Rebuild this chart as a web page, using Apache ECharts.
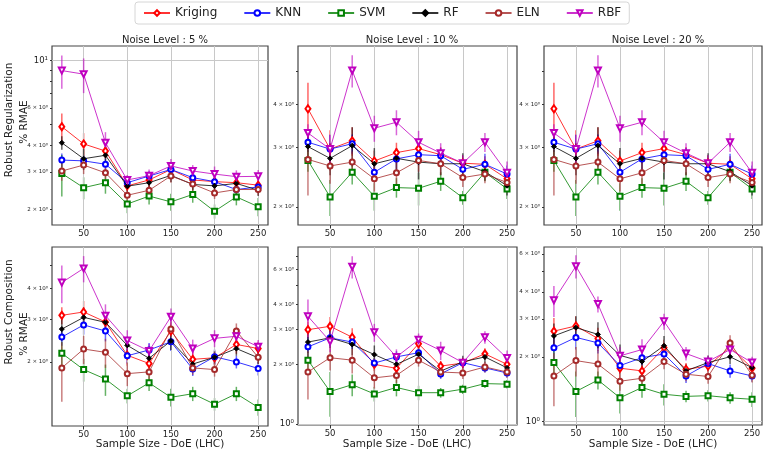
<!DOCTYPE html>
<html>
<head>
<meta charset="utf-8">
<script src="https://cdn.jsdelivr.net/npm/echarts@6/dist/echarts.min.js"></script>
<style>
  html, body { margin: 0; padding: 0; background: #fff; }
  #main { width: 765px; height: 452px; }
</style>
</head>
<body>
<div id="main"></div>
<script>
// sample sizes (x axis)
var sampleSize = [25, 50, 75, 100, 125, 150, 175, 200, 225, 250];
var xTicks = [50, 100, 150, 200, 250];
var models = ['Kriging', 'KNN', 'SVM', 'RF', 'ELN', 'RBF'];

// Robust Regularization, noise 5 %
var reg5Mean = {
  Kriging: [4.89, 4.06, 3.76, 2.58, 2.75, 3.08, 2.75, 2.70, 2.67, 2.60],
  KNN:     [3.41, 3.38, 3.26, 2.67, 2.87, 3.08, 2.82, 2.70, 2.48, 2.55],
  SVM:     [2.95, 2.53, 2.67, 2.12, 2.31, 2.17, 2.35, 1.96, 2.29, 2.06],
  RF:      [4.11, 3.46, 3.59, 2.57, 2.67, 2.89, 2.62, 2.58, 2.65, 2.46],
  ELN:     [3.03, 3.23, 2.97, 2.33, 2.46, 2.87, 2.63, 2.39, 2.48, 2.48],
  RBF:     [8.97, 8.63, 4.11, 2.75, 2.88, 3.20, 3.03, 2.93, 2.85, 2.86]
};
var reg5Err = {
  Kriging: [0.75, 0.5, 0.3, 0.15, 0.2, 0.2, 0.15, 0.15, 0.15, 0.15],
  KNN:     [0.25, 0.2, 0.2, 0.15, 0.15, 0.2, 0.15, 0.15, 0.15, 0.15],
  SVM:     [0.65, 0.3, 0.3, 0.2, 0.2, 0.2, 0.2, 0.15, 0.2, 0.2],
  RF:      [0.3, 0.4, 0.35, 0.15, 0.2, 0.2, 0.15, 0.15, 0.15, 0.15],
  ELN:     [0.3, 0.3, 0.2, 0.2, 0.2, 0.2, 0.2, 0.15, 0.15, 0.15],
  RBF:     [1.6, 1.6, 0.5, 0.15, 0.2, 0.25, 0.2, 0.25, 0.2, 0.2]
};

// Robust Regularization, noise 10 %
var reg10Mean = {
  Kriging: [3.89, 2.96, 3.13, 2.73, 2.89, 2.97, 2.85, 2.69, 2.67, 2.42],
  KNN:     [3.10, 2.96, 3.07, 2.53, 2.77, 2.85, 2.83, 2.58, 2.67, 2.50],
  SVM:     [2.74, 2.14, 2.53, 2.15, 2.28, 2.27, 2.38, 2.13, 2.53, 2.26],
  RF:      [3.01, 2.78, 3.03, 2.68, 2.78, 2.71, 2.68, 2.68, 2.54, 2.31],
  ELN:     [2.76, 2.64, 2.71, 2.42, 2.52, 2.74, 2.68, 2.44, 2.50, 2.36],
  RBF:     [3.30, 2.96, 5.04, 3.41, 3.55, 3.10, 2.88, 2.69, 3.10, 2.52]
};
var reg10Err = {
  Kriging: [0.75, 0.4, 0.3, 0.2, 0.2, 0.2, 0.15, 0.15, 0.15, 0.15],
  KNN:     [0.2, 0.3, 0.2, 0.15, 0.2, 0.2, 0.15, 0.15, 0.2, 0.15],
  SVM:     [0.2, 0.26, 0.2, 0.2, 0.15, 0.25, 0.15, 0.1, 0.15, 0.15],
  RF:      [0.25, 0.3, 0.4, 0.3, 0.2, 0.3, 0.2, 0.2, 0.15, 0.15],
  ELN:     [0.6, 0.3, 0.2, 0.2, 0.2, 0.2, 0.2, 0.15, 0.15, 0.15],
  RBF:     [0.2, 0.3, 0.55, 0.3, 0.3, 0.25, 0.2, 0.15, 0.2, 0.2]
};

// Robust Regularization, noise 20 %
var reg20Mean = {
  Kriging: [3.89, 2.96, 3.13, 2.73, 2.89, 2.97, 2.85, 2.69, 2.67, 2.42],
  KNN:     [3.10, 2.96, 3.07, 2.53, 2.77, 2.85, 2.83, 2.58, 2.67, 2.50],
  SVM:     [2.74, 2.14, 2.53, 2.15, 2.28, 2.27, 2.38, 2.13, 2.53, 2.26],
  RF:      [3.01, 2.78, 3.03, 2.68, 2.78, 2.71, 2.68, 2.68, 2.54, 2.31],
  ELN:     [2.76, 2.64, 2.71, 2.42, 2.52, 2.74, 2.68, 2.44, 2.50, 2.36],
  RBF:     [3.30, 2.96, 5.04, 3.41, 3.55, 3.10, 2.88, 2.69, 3.10, 2.52]
};
var reg20Err = {
  Kriging: [0.75, 0.4, 0.3, 0.2, 0.2, 0.2, 0.15, 0.15, 0.15, 0.15],
  KNN:     [0.2, 0.3, 0.2, 0.15, 0.2, 0.2, 0.15, 0.15, 0.2, 0.15],
  SVM:     [0.2, 0.26, 0.2, 0.2, 0.15, 0.25, 0.15, 0.1, 0.15, 0.15],
  RF:      [0.25, 0.3, 0.4, 0.3, 0.2, 0.3, 0.2, 0.2, 0.15, 0.15],
  ELN:     [0.6, 0.3, 0.2, 0.2, 0.2, 0.2, 0.2, 0.15, 0.15, 0.15],
  RBF:     [0.2, 0.3, 0.55, 0.3, 0.3, 0.25, 0.2, 0.15, 0.2, 0.2]
};

// Robust Composition, noise 5 %
var comp5Mean = {
  Kriging: [3.11, 3.21, 2.92, 2.13, 1.97, 2.68, 2.05, 2.08, 2.36, 2.27],
  KNN:     [2.53, 2.84, 2.68, 2.12, 2.24, 2.42, 1.87, 2.10, 2.00, 1.88],
  SVM:     [2.17, 1.86, 1.70, 1.45, 1.64, 1.43, 1.48, 1.34, 1.48, 1.30],
  RF:      [2.73, 3.05, 2.91, 2.34, 2.07, 2.44, 1.96, 2.09, 2.27, 2.08],
  ELN:     [1.89, 2.26, 2.19, 1.79, 1.82, 2.73, 1.89, 1.86, 2.68, 2.09],
  RBF:     [4.24, 4.85, 3.10, 2.45, 2.22, 3.07, 2.27, 2.50, 2.55, 2.31]
};
var comp5Err = {
  Kriging: [0.25, 0.35, 0.25, 0.2, 0.15, 0.2, 0.15, 0.15, 0.2, 0.15],
  KNN:     [0.2, 0.25, 0.25, 0.15, 0.15, 0.2, 0.12, 0.15, 0.12, 0.12],
  SVM:     [0.25, 0.2, 0.25, 0.1, 0.12, 0.12, 0.1, 0.08, 0.1, 0.1],
  RF:      [0.3, 0.3, 0.3, 0.2, 0.15, 0.2, 0.12, 0.12, 0.15, 0.12],
  ELN:     [0.52, 0.3, 0.3, 0.2, 0.15, 0.2, 0.12, 0.12, 0.2, 0.12],
  RBF:     [0.75, 0.6, 0.35, 0.25, 0.15, 0.25, 0.2, 0.2, 0.2, 0.15]
};

// Robust Composition, noise 10 %
var comp10Mean = {
  Kriging: [2.99, 3.11, 2.74, 2.00, 1.91, 2.54, 1.96, 2.03, 2.26, 2.00],
  KNN:     [2.45, 2.72, 2.59, 2.03, 2.18, 2.29, 1.79, 2.04, 1.92, 1.81],
  SVM:     [2.10, 1.46, 1.58, 1.42, 1.53, 1.44, 1.44, 1.50, 1.60, 1.59],
  RF:      [2.59, 2.72, 2.52, 2.24, 2.00, 2.25, 1.85, 2.06, 2.18, 1.92],
  ELN:     [1.83, 2.16, 2.10, 1.71, 1.76, 2.10, 1.83, 1.81, 1.94, 1.83],
  RBF:     [3.49, 2.61, 6.21, 2.90, 2.18, 2.66, 2.35, 2.04, 2.74, 2.15]
};
var comp10Err = {
  Kriging: [0.3, 0.35, 0.3, 0.15, 0.15, 0.2, 0.12, 0.12, 0.15, 0.12],
  KNN:     [0.3, 0.25, 0.2, 0.12, 0.15, 0.15, 0.1, 0.12, 0.1, 0.1],
  SVM:     [0.2, 0.37, 0.2, 0.12, 0.15, 0.12, 0.08, 0.08, 0.08, 0.08],
  RF:      [0.3, 0.3, 0.3, 0.25, 0.15, 0.15, 0.12, 0.15, 0.15, 0.12],
  ELN:     [0.5, 0.3, 0.3, 0.2, 0.15, 0.15, 0.12, 0.12, 0.12, 0.12],
  RBF:     [0.75, 0.3, 0.8, 0.3, 0.2, 0.2, 0.25, 0.12, 0.2, 0.2]
};

// Robust Composition, noise 20 %
var comp20Mean = {
  Kriging: [2.63, 2.78, 2.43, 1.77, 1.72, 2.20, 1.75, 1.81, 2.22, 1.77],
  KNN:     [2.20, 2.46, 2.32, 1.82, 1.98, 2.06, 1.63, 1.86, 1.72, 1.63],
  SVM:     [1.88, 1.38, 1.56, 1.29, 1.44, 1.34, 1.31, 1.32, 1.29, 1.27],
  RF:      [2.50, 2.73, 2.54, 2.03, 1.90, 2.25, 1.72, 1.88, 2.00, 1.78],
  ELN:     [1.63, 1.92, 1.85, 1.54, 1.59, 1.90, 1.66, 1.62, 2.32, 1.64],
  RBF:     [3.66, 5.26, 3.51, 2.02, 2.16, 2.92, 2.07, 1.90, 2.16, 1.88]
};
var comp20Err = {
  Kriging: [0.4, 0.3, 0.3, 0.2, 0.15, 0.2, 0.12, 0.12, 0.2, 0.12],
  KNN:     [0.3, 0.3, 0.25, 0.15, 0.15, 0.15, 0.12, 0.12, 0.12, 0.1],
  SVM:     [0.3, 0.33, 0.15, 0.2, 0.15, 0.15, 0.08, 0.08, 0.08, 0.1],
  RF:      [0.35, 0.35, 0.35, 0.25, 0.15, 0.25, 0.12, 0.15, 0.15, 0.12],
  ELN:     [0.45, 0.3, 0.3, 0.15, 0.15, 0.15, 0.12, 0.12, 0.2, 0.12],
  RBF:     [0.6, 0.65, 0.3, 0.2, 0.25, 0.25, 0.15, 0.12, 0.2, 0.12]
};

// y tick labels per panel (log axis)
var yLabels1 = [2, 3, 4, 6, 10];
var yLabels2 = [2, 3, 4];
var yLabels3 = [2, 3, 4];
var yLabels4 = [2, 3, 4];
var yLabels5 = [1, 2, 3, 4, 6];
var yLabels6 = [1, 2, 3, 4, 6];

var FONT = 'DejaVu Sans';
var style = {
  Kriging: { color: '#ff0000', symbol: 'emptyDiamond', size: [5, 7] },
  KNN:     { color: '#0000ff', symbol: 'emptyCircle', size: 5 },
  SVM:     { color: '#008000', symbol: 'emptyRect', size: 5 },
  RF:      { color: '#000000', symbol: 'diamond', size: 5 },
  ELN:     { color: '#a52a2a', symbol: 'emptyCircle', size: 5 },
  RBF:     { color: '#bf00bf', symbol: 'emptyTriangle', size: 6, rotate: 180 }
};

var panels = [
  { mean: reg5Mean, err: reg5Err, ymin: 1.69, ymax: 11.7, labels: yLabels1, hline: [10],
    left: 52, top: 46, width: 216, height: 179 },
  { mean: reg10Mean, err: reg10Err, ymin: 1.77, ymax: 5.95, labels: yLabels2, hline: [],
    left: 298, top: 46, width: 219, height: 179 },
  { mean: reg20Mean, err: reg20Err, ymin: 1.77, ymax: 5.95, labels: yLabels3, hline: [],
    left: 544, top: 46, width: 218, height: 179 },
  { mean: comp5Mean, err: comp5Err, ymin: 1.09, ymax: 5.94, labels: yLabels4, hline: [],
    left: 52, top: 247, width: 216, height: 179 },
  { mean: comp10Mean, err: comp10Err, ymin: 0.99, ymax: 7.8, labels: yLabels5, hline: [1],
    left: 298, top: 247, width: 219, height: 178 },
  { mean: comp20Mean, err: comp20Err, ymin: 0.965, ymax: 6.46, labels: yLabels6, hline: [1],
    left: 544, top: 247, width: 218, height: 178 }
];

function yFormat(v) {
  if (Math.abs(v - 10) < 1e-6) return '{maj|10¹}';
  if (Math.abs(v - 1) < 1e-6) return '{maj|10⁰}';
  return '{min|' + Math.round(v) + ' × 10⁰}';
}

function minorTicks(lo, hi) {
  var out = [];
  for (var d = 0.1; d <= 100; d *= 10) {
    for (var k = 1; k < 10; k++) {
      var v = Math.round(k * d * 1000) / 1000;
      if (v >= lo && v <= hi) out.push(v);
    }
  }
  return out;
}

var grids = [], xAxes = [], yAxes = [], lineSeries = [], barSeries = [];

panels.forEach(function (p, gi) {
  grids.push({
    left: p.left, top: p.top, width: p.width, height: p.height,
    show: true, borderColor: '#444', borderWidth: 1.2, backgroundColor: 'transparent'
  });
  xAxes.push({
    type: 'value', gridIndex: gi, min: 13.75, max: 261.25,
    axisLine: { show: false },
    axisTick: { show: true, customValues: xTicks, length: 3.5, lineStyle: { color: '#333' } },
    axisLabel: { customValues: xTicks, fontFamily: FONT, fontSize: 8.5, color: '#222', margin: 4 },
    splitLine: { show: false }
  });
  yAxes.push({
    type: 'log', logBase: 10, gridIndex: gi, min: p.ymin, max: p.ymax,
    axisLine: { show: false },
    axisTick: { show: true, customValues: minorTicks(p.ymin, p.ymax), length: 2, lineStyle: { color: '#333' } },
    axisLabel: {
      customValues: p.labels, formatter: yFormat, margin: 4,
      rich: {
        maj: { fontFamily: FONT, fontSize: 8.5, color: '#222' },
        min: { fontFamily: FONT, fontSize: 5.5, color: '#222' }
      }
    },
    splitLine: { show: false }
  });

  // grid lines
  var ml = xTicks.map(function (v) { return { xAxis: v }; });
  p.hline.forEach(function (v) { ml.push({ yAxis: v }); });
  barSeries.push({
    type: 'line', name: 'grid' + gi, xAxisIndex: gi, yAxisIndex: gi, data: [], z: 1,
    markLine: {
      silent: true, symbol: ['none', 'none'], label: { show: false },
      lineStyle: { color: '#c8c8c8', width: 1, type: 'solid' }, animation: false,
      data: ml
    }
  });

  models.forEach(function (m, mi) {
    var s = style[m];
    var pts = sampleSize.map(function (x, i) { return [x, p.mean[m][i], p.err[m][i]]; });
    // error bars (drawn through the axis scales)
    barSeries.push({
      type: 'custom', name: m, xAxisIndex: gi, yAxisIndex: gi, z: 2 + mi,
      clip: true, silent: true, color: s.color,
      data: pts,
      encode: { x: 0, y: 1 },
      renderItem: function (params, api) {
        var x = api.value(0), v = api.value(1), e = api.value(2);
        var a = api.coord([x, v + e]);
        var b = api.coord([x, Math.max(v - e, 0.01)]);
        return {
          type: 'line',
          shape: { x1: a[0], y1: a[1], x2: b[0], y2: b[1] },
          style: { stroke: s.color, lineWidth: 1.5, opacity: 0.6 }
        };
      }
    });
    lineSeries.push({
      type: 'line', name: m, xAxisIndex: gi, yAxisIndex: gi, z: 10 + mi,
      data: pts.map(function (d) { return [d[0], d[1]]; }),
      color: s.color,
      symbol: s.symbol, symbolSize: s.size, symbolRotate: s.rotate || 0,
      showAllSymbol: true,
      lineStyle: { color: s.color, width: 1, opacity: 0.8 },
      itemStyle: { color: s.color, borderColor: s.color, borderWidth: 1 },
      animation: false
    });
  });
});

var chart = echarts.init(document.getElementById('main'), null, { renderer: 'canvas' });
chart.setOption({
  backgroundColor: '#fff',
  animation: false,
  textStyle: { fontFamily: FONT },
  legend: {
    data: models, left: 135, top: 2,
    padding: [5, 8], itemGap: 26, itemWidth: 26, itemHeight: 7,
    borderColor: '#d6d6d6', borderWidth: 1, borderRadius: 3,
    textStyle: { fontFamily: FONT, fontSize: 12, color: '#222' }
  },
  title: [
    { text: 'Noise Level : 5 %', left: 160, top: 30, textAlign: 'center',
      textStyle: { fontFamily: FONT, fontSize: 10, fontWeight: 'normal', color: '#222' } },
    { text: 'Noise Level : 10 %', left: 407, top: 30, textAlign: 'center',
      textStyle: { fontFamily: FONT, fontSize: 10, fontWeight: 'normal', color: '#222' } },
    { text: 'Noise Level : 20 %', left: 653, top: 30, textAlign: 'center',
      textStyle: { fontFamily: FONT, fontSize: 10, fontWeight: 'normal', color: '#222' } }
  ],
  graphic: [
    { type: 'text', x: 9, y: 120, rotation: Math.PI / 2,
      style: { text: 'Robust Regularization', font: '10.5px "DejaVu Sans"', fill: '#222', textAlign: 'center', textVerticalAlign: 'middle' } },
    { type: 'text', x: 24, y: 122, rotation: Math.PI / 2,
      style: { text: '% RMAE', font: '10.5px "DejaVu Sans"', fill: '#222', textAlign: 'center', textVerticalAlign: 'middle' } },
    { type: 'text', x: 9, y: 312, rotation: Math.PI / 2,
      style: { text: 'Robust Composition', font: '10.5px "DejaVu Sans"', fill: '#222', textAlign: 'center', textVerticalAlign: 'middle' } },
    { type: 'text', x: 24, y: 334, rotation: Math.PI / 2,
      style: { text: '% RMAE', font: '10.5px "DejaVu Sans"', fill: '#222', textAlign: 'center', textVerticalAlign: 'middle' } },
    { type: 'text', x: 160, y: 444,
      style: { text: 'Sample Size - DoE (LHC)', font: '10.5px "DejaVu Sans"', fill: '#222', textAlign: 'center', textVerticalAlign: 'middle' } },
    { type: 'text', x: 407, y: 444,
      style: { text: 'Sample Size - DoE (LHC)', font: '10.5px "DejaVu Sans"', fill: '#222', textAlign: 'center', textVerticalAlign: 'middle' } },
    { type: 'text', x: 653, y: 444,
      style: { text: 'Sample Size - DoE (LHC)', font: '10.5px "DejaVu Sans"', fill: '#222', textAlign: 'center', textVerticalAlign: 'middle' } }
  ],
  grid: grids,
  xAxis: xAxes,
  yAxis: yAxes,
  series: lineSeries.concat(barSeries)
});
</script>
</body>
</html>
